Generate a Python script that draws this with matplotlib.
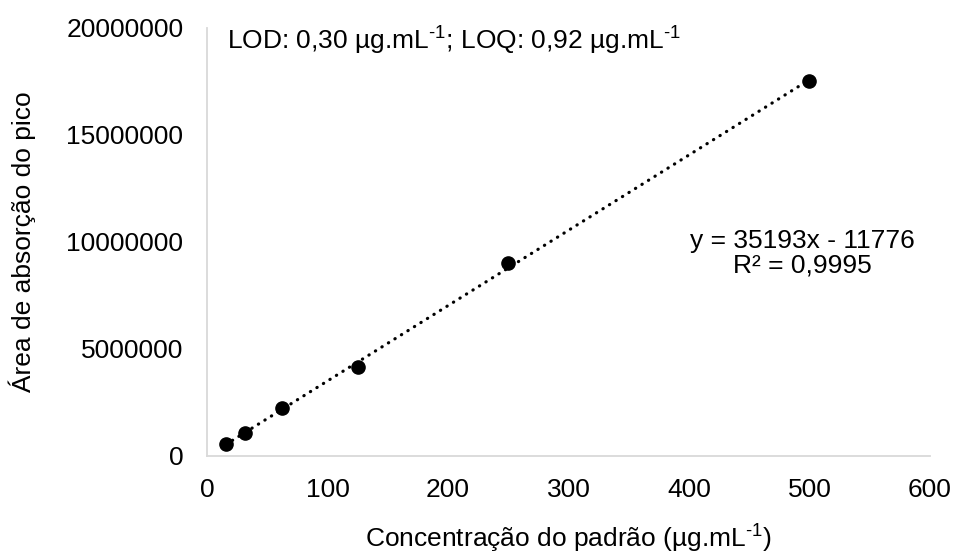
import matplotlib.pyplot as plt
import numpy as np

plt.rcParams['font.family'] = ['Liberation Sans', 'DejaVu Sans']
plt.rcParams['mathtext.fontset'] = 'custom'
plt.rcParams['mathtext.rm'] = 'Liberation Sans'
plt.rcParams['mathtext.default'] = 'regular'

conc = [15.625, 31.25, 62.5, 125, 250, 500]
area = [560000, 1070000, 2240000, 4160000, 9020000, 17540000]
slope = 35193
intercept = -11776
xticks = [0, 100, 200, 300, 400, 500, 600]
yticks = [0, 5000000, 10000000, 15000000, 20000000]

fs = 19
sup = r'$^{\text{-1}}$'

fig = plt.figure(figsize=(9.55, 5.55), dpi=100)
ax = fig.add_axes([0.2168, 0.1784, 0.757, 0.7712])

xfit = np.array([conc[0], conc[-1]])
ax.plot(xfit, slope * xfit + intercept, color='black', lw=2.3, linestyle=(0, (0.1, 2.3)),
        dash_capstyle='round', zorder=2)
ax.plot(conc, area, 'o', color='black', markersize=9.5, zorder=3)

ax.set_xlim(0, 600)
ax.set_ylim(0, 20000000)
ax.set_xticks(xticks)
ax.set_yticks(yticks)
ax.set_yticklabels([str(v) for v in yticks])
ax.tick_params(length=0, labelsize=fs, colors='black')
ax.tick_params(axis='y', pad=17)
ax.tick_params(axis='x', pad=16)

for s in ['top', 'right']:
    ax.spines[s].set_visible(False)
for s in ['left', 'bottom']:
    ax.spines[s].set_color('#d9d9d9')
    ax.spines[s].set_linewidth(1.3)

fig.text(0.5955, 0.0126, 'Concentração do padrão (µg.mL' + sup + ')', fontsize=fs,
         ha='center', va='baseline')
ax.set_ylabel('Área de absorção do pico', fontsize=fs, labelpad=22)

ax.text(0.0277, 0.9486, 'LOD: 0,30 µg.mL' + sup + '; LOQ: 0,92 µg.mL' + sup, transform=ax.transAxes,
        fontsize=fs, va='baseline', ha='left')
ax.text(0.823, 0.486, 'y = 35193x - 11776', transform=ax.transAxes,
        fontsize=fs, va='baseline', ha='center')
ax.text(0.823, 0.4276, 'R² = 0,9995', transform=ax.transAxes,
        fontsize=fs, va='baseline', ha='center')

fig.savefig('out.png', dpi=100)
